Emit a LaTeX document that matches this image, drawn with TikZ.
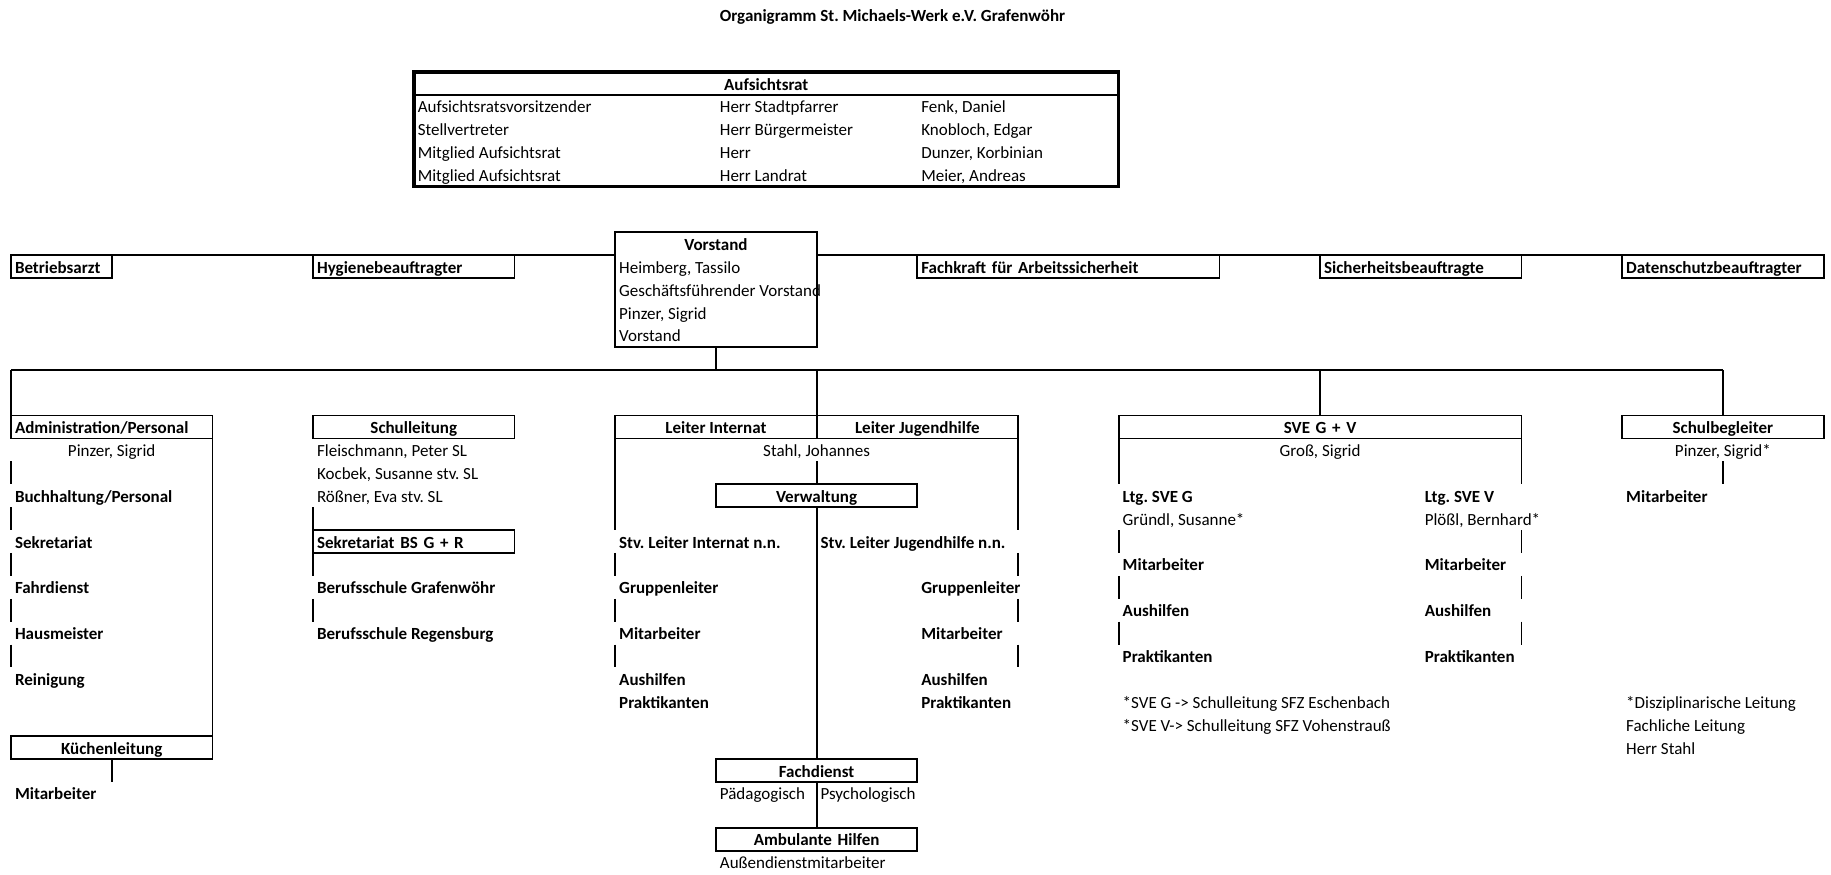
\documentclass[tikz,border=0pt]{standalone}
\usepackage{fontspec}
\setmainfont{Carlito}
\frenchspacing
\begin{document}
\begin{tikzpicture}[x=1pt,y=-1pt,
  declare function={cx(\k)=11+100.7*\k; ry(\r)=427+22.9*\r; rt(\r)=415.55+22.9*\r;},
  every node/.style={inner sep=0pt, outer sep=0pt, text height=15pt, text depth=2pt},
  ln/.style={line width=1.8pt},
  b/.style={font=\bfseries},
  tl/.style={anchor=west},
  bx/.style={draw, line width=1.8pt, anchor=north west, minimum height=22.9pt, inner xsep=4pt, inner ysep=0pt, font=\bfseries},
  w1/.style={text width=92.7pt},
  w2/.style={text width=193.4pt},
  w3/.style={text width=294.1pt},
  w4/.style={text width=394.8pt},
  al/.style={align=left},
  ac/.style={align=center}]
\fontsize{17}{20}\selectfont
\fill[white] (0,0) rectangle (1831,875);
\useasboundingbox (0,0) rectangle (1831,875);

% title
\node[b,tl] (title) at ({cx(7)+4},{ry(-18)}) {Organigramm St. Michaels-Werk e.V. Grafenwöhr};

% Aufsichtsrat
\node[draw, line width=3.5pt, anchor=north west, minimum width=704.9pt, minimum height=114.5pt] (ar) at ({cx(4)},{rt(-15)}) {};
\coordinate (arl) at ({cx(4)},{rt(-14)});
\draw[line width=1.4pt] (arl) -- (arl -| ar.east);
\node[b] (arh) at ({(cx(4)+cx(11))/2},{ry(-15)}) {Aufsichtsrat};
\node[tl] (a11) at ({cx(4)+4},{ry(-14)}) {Aufsichtsratsvorsitzender};
\node[tl] (a12) at ({cx(7)+4},{ry(-14)}) {Herr Stadtpfarrer};
\node[tl] (a13) at ({cx(9)+4},{ry(-14)}) {Fenk, Daniel};
\node[tl] (a21) at ({cx(4)+4},{ry(-13)}) {Stellvertreter};
\node[tl] (a22) at ({cx(7)+4},{ry(-13)}) {Herr Bürgermeister};
\node[tl] (a23) at ({cx(9)+4},{ry(-13)}) {Knobloch, Edgar};
\node[tl] (a31) at ({cx(4)+4},{ry(-12)}) {Mitglied Aufsichtsrat};
\node[tl] (a32) at ({cx(7)+4},{ry(-12)}) {Herr};
\node[tl] (a33) at ({cx(9)+4},{ry(-12)}) {Dunzer, Korbinian};
\node[tl] (a41) at ({cx(4)+4},{ry(-11)}) {Mitglied Aufsichtsrat};
\node[tl] (a42) at ({cx(7)+4},{ry(-11)}) {Herr Landrat};
\node[tl] (a43) at ({cx(9)+4},{ry(-11)}) {Meier, Andreas};

% Vorstand
\node[draw, line width=1.8pt, anchor=north west, minimum width=201.4pt, minimum height=114.5pt] (vorstand) at ({cx(6)},{rt(-8)}) {};
\node[b] (vh) at ({cx(7)},{ry(-8)}) {Vorstand};
\node[tl] (v1) at ({cx(6)+4},{ry(-7)}) {Heimberg, Tassilo};
\node[tl] (v2) at ({cx(6)+4},{ry(-6)}) {Geschäftsführender Vorstand};
\node[tl] (v3) at ({cx(6)+4},{ry(-5)}) {Pinzer, Sigrid};
\node[tl] (v4) at ({cx(6)+4},{ry(-4)}) {Vorstand};

% staff row
\node[bx,w1,al] (betr) at ({cx(0)},{rt(-7)}) {Betriebsarzt};
\node[bx,w2,al] (hyg) at ({cx(3)},{rt(-7)}) {Hygienebeauftragter};
\node[bx,w3,al] (fask) at ({cx(9)},{rt(-7)}) {Fachkraft für Arbeitssicherheit};
\node[bx,w2,al] (sich) at ({cx(13)},{rt(-7)}) {Sicherheitsbeauftragte};
\node[bx,w2,al] (dat) at ({cx(16)},{rt(-7)}) {Datenschutzbeauftragter};
\draw[ln] (betr.north west) -- (vorstand.west |- betr.north);
\draw[ln] (vorstand.east |- betr.north) -- (dat.north east);

% main bus
\coordinate (busL) at ({cx(0)},{rt(-2)});
\coordinate (busR) at ({cx(17)},{rt(-2)});
\draw[ln] (busL) -- (busR);
\draw[ln] (vorstand.south) -- (vorstand.south |- busL);

% Administration
\node[bx,w2,al] (admin) at ({cx(0)},{rt(0)}) {Administration/Personal};
\node (adp) at ({cx(1)},{ry(1)}) {Pinzer, Sigrid};
\node[b,tl] (buch) at ({cx(0)+4},{ry(3)}) {Buchhaltung/Personal};
\node[b,tl] (sekr) at ({cx(0)+4},{ry(5)}) {Sekretariat};
\node[b,tl] (fahr) at ({cx(0)+4},{ry(7)}) {Fahrdienst};
\node[b,tl] (haus) at ({cx(0)+4},{ry(9)}) {Hausmeister};
\node[b,tl] (rein) at ({cx(0)+4},{ry(11)}) {Reinigung};
\node[bx,w2,ac] (kuech) at ({cx(0)},{rt(14)}) {Küchenleitung};
\node[b,tl] (kma) at ({cx(0)+4},{ry(16)}) {Mitarbeiter};
\draw[ln] (busL) -- (admin.north west);
\draw[ln] (admin.north east) -- (kuech.north east);
\draw[ln] (kuech.south) -- ++(0,22.9);
\foreach \r in {2,4,6,8,10} \draw[ln] ({cx(0)},{rt(\r)}) -- ({cx(0)},{rt(\r+1)});

% Schulleitung
\node[bx,w2,ac] (schul) at ({cx(3)},{rt(0)}) {Schulleitung};
\node[tl] (s1) at ({cx(3)+4},{ry(1)}) {Fleischmann, Peter SL};
\node[tl] (s2) at ({cx(3)+4},{ry(2)}) {Kocbek, Susanne stv. SL};
\node[tl] (s3) at ({cx(3)+4},{ry(3)}) {Rößner, Eva stv. SL};
\node[bx,w2,al] (sbs) at ({cx(3)},{rt(5)}) {Sekretariat BS G + R};
\node[b,tl] (bsg) at ({cx(3)+4},{ry(7)}) {Berufsschule Grafenwöhr};
\node[b,tl] (bsr) at ({cx(3)+4},{ry(9)}) {Berufsschule Regensburg};
\foreach \r in {4,6,8} \draw[ln] ({cx(3)},{rt(\r)}) -- ({cx(3)},{rt(\r+1)});

% Internat / Jugendhilfe
\node[bx,w4] (leiter) at ({cx(6)},{rt(0)}) {};
\draw[ln] (leiter.north) -- (leiter.south);
\draw[ln] (leiter.north |- busL) -- (leiter.north);
\node[b] (li) at ({cx(7)},{ry(0)}) {Leiter Internat};
\node[b] (lj) at ({cx(9)},{ry(0)}) {Leiter Jugendhilfe};
\node (stahl) at ({cx(8)},{ry(1)}) {Stahl, Johannes};
\node[bx,w2,ac] (verw) at ({cx(7)},{rt(3)}) {Verwaltung};
\draw[ln] ({cx(8)},{rt(2)}) -- (verw.north);
\draw[ln] (leiter.south west) -- ({cx(6)},{rt(5)});
\draw[ln] (leiter.south east) -- ({cx(10)},{rt(5)});
\node[b,tl] (stvi) at ({cx(6)+4},{ry(5)}) {Stv. Leiter Internat n.n.};
\node[b,tl] (stvj) at ({cx(8)+4},{ry(5)}) {Stv. Leiter Jugendhilfe n.n.};
\foreach \r in {6,8,10} {
  \draw[ln] ({cx(6)},{rt(\r)}) -- ({cx(6)},{rt(\r+1)});
  \draw[ln] ({cx(10)},{rt(\r)}) -- ({cx(10)},{rt(\r+1)});
}
\node[b,tl] (ig) at ({cx(6)+4},{ry(7)}) {Gruppenleiter};
\node[b,tl] (im) at ({cx(6)+4},{ry(9)}) {Mitarbeiter};
\node[b,tl] (ia) at ({cx(6)+4},{ry(11)}) {Aushilfen};
\node[b,tl] (ip) at ({cx(6)+4},{ry(12)}) {Praktikanten};
\node[b,tl] (jg) at ({cx(9)+4},{ry(7)}) {Gruppenleiter};
\node[b,tl] (jm) at ({cx(9)+4},{ry(9)}) {Mitarbeiter};
\node[b,tl] (ja) at ({cx(9)+4},{ry(11)}) {Aushilfen};
\node[b,tl] (jp) at ({cx(9)+4},{ry(12)}) {Praktikanten};
\node[bx,w2,ac] (fach) at ({cx(7)},{rt(15)}) {Fachdienst};
\draw[ln] (verw.south) -- (fach.north);
\node[tl] (paed) at ({cx(7)+4},{ry(16)}) {Pädagogisch};
\node[tl] (psy) at ({cx(8)+4},{ry(16)}) {Psychologisch};
\node[bx,w2,ac] (amb) at ({cx(7)},{rt(18)}) {Ambulante Hilfen};
\draw[ln] (fach.south) -- (amb.north);
\node[tl] (aus) at ({cx(7)+4},{ry(19)}) {Außendienstmitarbeiter};

% SVE
\node[bx,w4,ac] (sve) at ({cx(11)},{rt(0)}) {SVE G + V};
\draw[ln] (sve.north |- busL) -- (sve.north);
\node (gross) at ({cx(13)},{ry(1)}) {Groß, Sigrid};
\draw[ln] (sve.south west) -- ({cx(11)},{rt(3)});
\draw[ln] (sve.south east) -- ({cx(15)},{rt(3)});
\node[b,tl] (lg) at ({cx(11)+4},{ry(3)}) {Ltg. SVE G};
\node[tl] (lgn) at ({cx(11)+4},{ry(4)}) {Gründl, Susanne*};
\node[b,tl] (lv) at ({cx(14)+4},{ry(3)}) {Ltg. SVE V};
\node[tl] (lvn) at ({cx(14)+4},{ry(4)}) {Plößl, Bernhard*};
\foreach \r in {5,7,9} {
  \draw[ln] ({cx(11)},{rt(\r)}) -- ({cx(11)},{rt(\r+1)});
  \draw[ln] ({cx(15)},{rt(\r)}) -- ({cx(15)},{rt(\r+1)});
}
\node[b,tl] (gm) at ({cx(11)+4},{ry(6)}) {Mitarbeiter};
\node[b,tl] (ga) at ({cx(11)+4},{ry(8)}) {Aushilfen};
\node[b,tl] (gp) at ({cx(11)+4},{ry(10)}) {Praktikanten};
\node[b,tl] (vm) at ({cx(14)+4},{ry(6)}) {Mitarbeiter};
\node[b,tl] (va) at ({cx(14)+4},{ry(8)}) {Aushilfen};
\node[b,tl] (vp) at ({cx(14)+4},{ry(10)}) {Praktikanten};
\node[tl] (fn1) at ({cx(11)+4},{ry(12)}) {*SVE G -> Schulleitung SFZ Eschenbach};
\node[tl] (fn2) at ({cx(11)+4},{ry(13)}) {*SVE V-> Schulleitung SFZ Vohenstrauß};

% Schulbegleiter
\node[bx,w2,ac] (schulb) at ({cx(16)},{rt(0)}) {Schulbegleiter};
\draw[ln] (busR) -- (schulb.north);
\node (sbp) at ({cx(17)},{ry(1)}) {Pinzer, Sigrid*};
\draw[ln] ({cx(17)},{rt(2)}) -- ({cx(17)},{rt(3)});
\node[b,tl] (sbm) at ({cx(16)+4},{ry(3)}) {Mitarbeiter};
\node[tl] (sf1) at ({cx(16)+4},{ry(12)}) {*Disziplinarische Leitung};
\node[tl] (sf2) at ({cx(16)+4},{ry(13)}) {Fachliche Leitung};
\node[tl] (sf3) at ({cx(16)+4},{ry(14)}) {Herr Stahl};
\end{tikzpicture}
\end{document}
